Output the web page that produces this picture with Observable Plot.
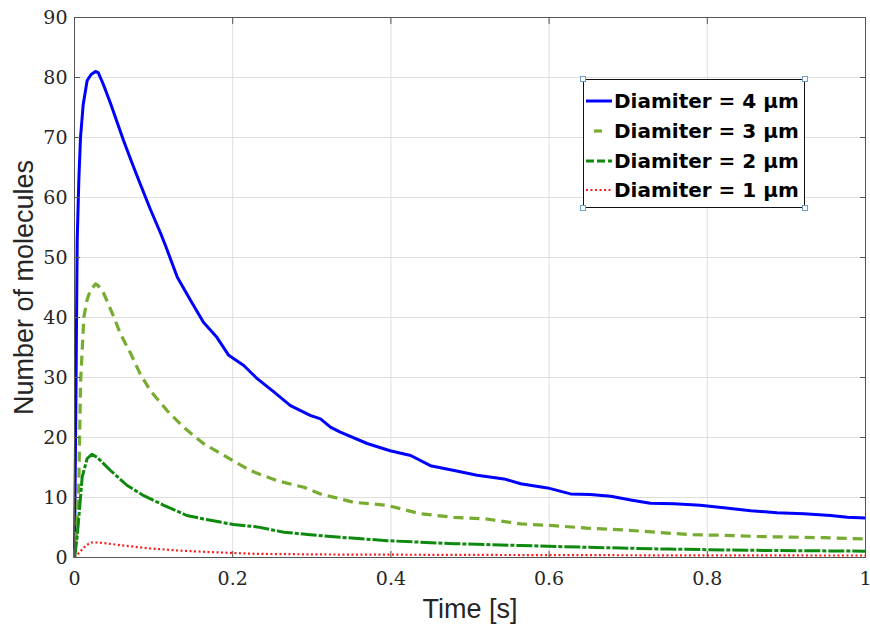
<!DOCTYPE html>
<html>
<head>
<meta charset="utf-8">
<script src="https://cdn.jsdelivr.net/npm/d3@7"></script>
<script src="https://cdn.jsdelivr.net/npm/@observablehq/plot@0.6"></script>
<style>
  html, body { margin: 0; padding: 0; background: #fff; }
  #wrap { position: relative; width: 870px; height: 631px; }
  #legend {
    position: absolute; left: 583px; top: 79px; width: 220px; height: 127px;
    border: 1.5px solid #111; background: #fff; box-sizing: content-box;
    font-family: "DejaVu Sans", sans-serif; font-weight: bold; font-size: 20px; color: #000;
  }
  .row { position: absolute; left: 0; height: 29px; display: flex; align-items: center; }
  .row svg { width: 28px; height: 10px; margin-left: 2px; }
  .row span { margin-left: 0px; white-space: nowrap; }
  .handle { position: absolute; width: 4px; height: 4px; border: 1px solid #6a9fd4; background: #fff; }
</style>
</head>
<body>
<div id="wrap"></div>
<script>
// ---- data ----
const xTicks = [0, 0.2, 0.4, 0.6, 0.8, 1];
const xTickLabels = ["0", "0.2", "0.4", "0.6", "0.8", "1"];
const yTicks = [0, 10, 20, 30, 40, 50, 60, 70, 80, 90];
const yTickLabels = ["0", "10", "20", "30", "40", "50", "60", "70", "80", "90"];

const seriesNames = ["Diamiter = 4 μm", "Diamiter = 3 μm", "Diamiter = 2 μm", "Diamiter = 1 μm"];

// Diameter 4 µm
const t4 = [0, 0.002, 0.0034, 0.0055, 0.0076, 0.011, 0.016, 0.021, 0.0265, 0.030, 0.036, 0.0455, 0.054, 0.062, 0.072, 0.083, 0.096, 0.109, 0.115, 0.130, 0.147, 0.163, 0.180, 0.195, 0.214, 0.231, 0.252, 0.273, 0.298, 0.311, 0.324, 0.336, 0.370, 0.399, 0.425, 0.450, 0.480, 0.509, 0.543, 0.564, 0.598, 0.627, 0.652, 0.678, 0.703, 0.728, 0.758, 0.791, 0.821, 0.855, 0.888, 0.922, 0.956, 0.977, 1.0];
const n4 = [0, 30, 52.8, 63, 70, 75.5, 79.5, 80.5, 81, 80.8, 79, 75.7, 72.5, 69.5, 66, 62.3, 58, 54, 52, 46.7, 42.8, 39.2, 36.7, 33.7, 32, 29.8, 27.6, 25.3, 23.7, 23.1, 21.7, 20.9, 19, 17.8, 17, 15.3, 14.5, 13.7, 13.1, 12.3, 11.6, 10.6, 10.5, 10.2, 9.6, 9.05, 8.95, 8.7, 8.3, 7.8, 7.45, 7.3, 7.0, 6.7, 6.6];

// Diameter 3 µm
const t3 = [0, 0.003, 0.0055, 0.0076, 0.0118, 0.016, 0.020, 0.0265, 0.030, 0.037, 0.050, 0.058, 0.071, 0.083, 0.096, 0.117, 0.138, 0.163, 0.197, 0.222, 0.256, 0.290, 0.311, 0.353, 0.395, 0.437, 0.480, 0.522, 0.564, 0.606, 0.648, 0.694, 0.736, 0.779, 0.821, 0.863, 0.905, 0.947, 1.0];
const n3 = [0, 5, 12.3, 29, 40, 43, 44.5, 45.6, 45.3, 44, 40, 37.3, 34, 30.6, 27.8, 24.5, 21.7, 19, 16.4, 14.5, 12.8, 11.7, 10.6, 9.2, 8.7, 7.3, 6.7, 6.4, 5.6, 5.3, 4.9, 4.6, 4.2, 3.8, 3.7, 3.5, 3.4, 3.3, 3.1];

// Diameter 2 µm
const t2 = [0, 0.003, 0.0055, 0.0097, 0.016, 0.022, 0.0287, 0.0455, 0.0666, 0.0876, 0.113, 0.142, 0.172, 0.201, 0.231, 0.265, 0.298, 0.324, 0.395, 0.48, 0.564, 0.648, 0.75, 0.85, 1.0];
const n2 = [0, 3, 6.7, 13.4, 16.5, 17.2, 16.7, 14.5, 12, 10.3, 8.7, 7, 6.2, 5.5, 5.1, 4.2, 3.8, 3.5, 2.8, 2.3, 2.0, 1.7, 1.4, 1.2, 1.05];

// Diameter 1 µm
const t1 = [0, 0.006, 0.012, 0.020, 0.028, 0.037, 0.062, 0.092, 0.130, 0.172, 0.231, 0.32, 0.45, 0.6, 0.8, 1.0];
const n1 = [0, 0.8, 1.7, 2.5, 2.5, 2.4, 2.0, 1.55, 1.17, 0.9, 0.6, 0.5, 0.45, 0.4, 0.35, 0.33];

// ---- styles ----
const styles = [
  {stroke: "#0000ff", strokeWidth: 3, dash: null},
  {stroke: "#77ac30", strokeWidth: 3.2, dash: "10,6"},
  {stroke: "#0d8a0d", strokeWidth: 3, dash: "16,2,4,2"},
  {stroke: "#ff1a1a", strokeWidth: 2.2, dash: "2,2.5"}
];
const allT = [t4, t3, t2, t1];
const allN = [n4, n3, n2, n1];
const series = allT.map((ts, i) => ts.map((t, j) => ({t, n: allN[i][j], s: seriesNames[i]})));

const axisColor = "#262626";
const tickFont = "'DejaVu Serif', serif";
const labelFont = "'Liberation Sans', Arial, sans-serif";

const chart = Plot.plot({
  width: 870,
  height: 631,
  marginLeft: 74,
  marginRight: 5,
  marginTop: 17,
  marginBottom: 74,
  style: {background: "#fff", color: axisColor, overflow: "visible"},
  x: {domain: [0, 1]},
  y: {domain: [0, 90]},
  marks: [
    Plot.gridX(xTicks, {stroke: "#dedede", strokeOpacity: 1}),
    Plot.gridY(yTicks, {stroke: "#dedede", strokeOpacity: 1}),
    ...series.map((d, i) => Plot.line(d, {
      x: "t", y: "n",
      stroke: styles[i].stroke,
      strokeWidth: styles[i].strokeWidth,
      strokeDasharray: styles[i].dash,
      strokeLinejoin: "round",
      strokeLinecap: "butt"
    })),
    Plot.frame({stroke: "#555", strokeWidth: 1}),
    Plot.axisX(xTicks, {anchor: "bottom", tickSize: -6, tickPadding: 20,
      tickFormat: (d, i) => xTickLabels[i], fontSize: 19, fontFamily: tickFont, label: null, stroke: "#555"}),
    Plot.axisX(xTicks, {anchor: "top", tickSize: -6, tickFormat: () => "", label: null, stroke: "#555"}),
    Plot.axisY(yTicks, {anchor: "left", tickSize: -6, tickPadding: 13,
      tickFormat: (d, i) => yTickLabels[i], fontSize: 19, fontFamily: tickFont, label: null, stroke: "#555"}),
    Plot.axisY(yTicks, {anchor: "right", tickSize: -6, tickFormat: () => "", label: null, stroke: "#555"}),
    Plot.text(["Time [s]"], {frameAnchor: "bottom", dy: 60, fontSize: 27, fontFamily: labelFont, fill: axisColor}),
    Plot.text(["Number of molecules"], {frameAnchor: "left", textAnchor: "middle", dx: -50, rotate: -90, fontSize: 27, fontFamily: labelFont, fill: axisColor})
  ]
});

const wrap = document.getElementById("wrap");
wrap.appendChild(chart);

// legend
const legend = document.createElement("div");
legend.id = "legend";
const rowTops = [6, 36, 66, 95];
seriesNames.forEach((name, i) => {
  const row = document.createElement("div");
  row.className = "row";
  row.style.top = rowTops[i] + "px";
  const st = styles[i];
  const svg = d3.create("svg").attr("viewBox", "0 0 28 10");
  let line = svg.append("line").attr("y1", 5).attr("y2", 5)
    .attr("stroke", st.stroke).attr("stroke-width", st.strokeWidth);
  if (i === 0) line.attr("x1", 0).attr("x2", 26);
  if (i === 1) line.attr("x1", 8).attr("x2", 16);
  if (i === 2) line.attr("x1", 0).attr("x2", 26).attr("stroke-dasharray", "8,3");
  if (i === 3) line.attr("x1", 0).attr("x2", 26).attr("stroke-dasharray", "2,2.5");
  row.appendChild(svg.node());
  const span = document.createElement("span");
  span.textContent = name;
  row.appendChild(span);
  legend.appendChild(row);
});
wrap.appendChild(legend);
[[581, 77], [803, 77], [581, 206], [803, 206]].forEach(([x, y]) => {
  const h = document.createElement("div");
  h.className = "handle";
  h.style.left = (x - 1) + "px";
  h.style.top = (y - 1) + "px";
  wrap.appendChild(h);
});
</script>
</body>
</html>
